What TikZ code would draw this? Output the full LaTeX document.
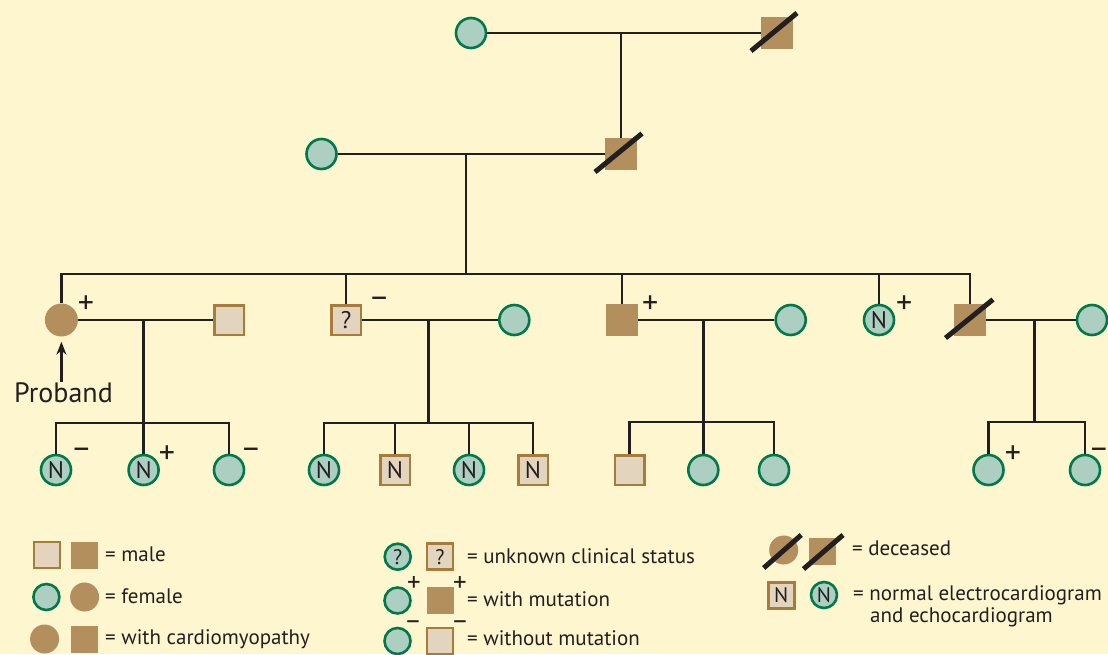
\documentclass[tikz,border=0pt]{standalone}
\usepackage{fontspec}
\setmainfont{PT Sans}
\usetikzlibrary{arrows.meta}
\definecolor{bg}{HTML}{FEF6CE}
\definecolor{gf}{HTML}{ADCFC2}
\definecolor{gd}{HTML}{00794A}
\definecolor{br}{HTML}{B48F5E}
\definecolor{sf}{HTML}{E3D4BE}
\definecolor{sd}{HTML}{A77B3B}
\definecolor{lc}{HTML}{231F20}
\begin{document}
\begin{tikzpicture}[x=1pt,y=-1pt,
  line/.style={draw=lc, line width=2.6pt},
  slash/.style={draw=lc, line width=5pt},
  fem/.style={circle, fill=gf, draw=gd, line width=2.6pt, minimum size=30pt, inner sep=0pt, text=lc, font=\fontsize{24}{24}\selectfont},
  femA/.style={circle, fill=br, minimum size=33pt, inner sep=0pt},
  mal/.style={rectangle, fill=sf, draw=sd, line width=2.5pt, minimum size=29.5pt, inner sep=0pt, text=lc, font=\fontsize{24}{24}\selectfont},
  malA/.style={rectangle, fill=br, minimum size=32pt, inner sep=0pt},
  sg/.style={inner sep=0pt, text=lc, font=\fontsize{32}{32}\selectfont},
  lsg/.style={sg, font=\fontsize{27}{27}\selectfont},
  lt/.style={anchor=base west, inner sep=0pt, text=lc, font=\fontsize{21}{24}\selectfont},
  lfem/.style={fem, minimum size=26pt},
  lfemA/.style={femA, minimum size=29pt},
  lmal/.style={mal, minimum size=26pt},
  lmalA/.style={malA, minimum size=27pt},
]
\fill[bg] (0,0) rectangle (1108,654);
\useasboundingbox (0,0) rectangle (1108,654);

% Generation I
\node[fem] (I1) at (471,33) {};
\node[malA] (I2) at (777,33) {};
\draw[line] (I1) -- (I2);
\draw[slash] ([shift={(-26,18)}]I2.center) -- ([shift={(20,-20)}]I2.center);
\coordinate (mI) at (621,33);

% Generation II
\node[fem] (II1) at (321.5,154) {};
\node[malA] (II2) at (621,154) {};
\draw[line] (mI) -- (II2);
\draw[line] (II1) -- (II2);
\draw[slash] ([shift={(-26,18)}]II2.center) -- ([shift={(21,-20.5)}]II2.center);
\coordinate (mII) at (466,154);
\coordinate (sII) at (466,274);
\draw[line] (mII) -- (sII);

% Generation III
\node[femA] (III1) at (61.4,320) {};
\node[mal] (III2) at (346,320) {?};
\node[malA] (III3) at (622,320) {};
\node[fem] (III4) at (879,320) {N};
\node[malA] (III5) at (970,320) {};
\draw[line] (III1) |- (sII) -| (III5);
\draw[line] (III2) -- (III2 |- sII);
\draw[line] (III3) -- (III3 |- sII);
\draw[line] (III4) -- (III4 |- sII);

\node[mal] (III1s) at (229,320) {};
\node[fem] (III2s) at (514.3,320) {};
\node[fem] (III3s) at (790.7,320) {};
\node[fem] (III5s) at (1092,320) {};
\draw[line] (III1) -- (III1s);
\draw[line] (III2) -- (III2s);
\draw[line] (III3) -- (III3s);
\draw[line] (III5) -- (III5s);
\draw[slash] ([shift={(-24.5,18)}]III5.center) -- ([shift={(23,-20.5)}]III5.center);

\node[sg] (sgIII1) at (86,305) {+};
\node[sg] (sgIII2) at (379.3,302.7) {–};
\node[sg] (sgIII3) at (650.2,305) {+};
\node[sg] (sgIII4) at (904.3,305) {+};

% Proband
\node[inner sep=1pt, text=lc, font=\fontsize{28}{28}\selectfont, anchor=base] (pb) at (63.5,402.7) {Proband};
\draw[line, line width=2.2pt, -{Stealth[length=13pt,width=10pt]}, shorten >=5pt] (pb.north -| III1) -- (III1);

% Generation IV, family 1
\coordinate (m1) at (143.6,320);
\coordinate (s1) at (143.6,423);
\node[fem] (IV1) at (56,470) {N};
\node[fem] (IV2) at (143.6,470) {N};
\node[fem] (IV3) at (229,470) {};
\draw[line] (m1) -- (IV2);
\draw[line] (IV1) |- (s1) -| (IV3);
\node[sg] (sgIV1) at (81.4,453) {–};
\node[sg] (sgIV2) at (167,455) {+};
\node[sg] (sgIV3) at (251,453) {–};

% family 2
\coordinate (m2) at (428.6,320);
\coordinate (s2) at (428.6,423);
\node[fem] (IV4) at (324,470) {N};
\node[mal] (IV5) at (395,470) {N};
\node[fem] (IV6) at (469,470) {N};
\node[mal] (IV7) at (533,470) {N};
\draw[line] (m2) -- (s2);
\draw[line] (IV4) |- (s2) -| (IV7);
\draw[line] (IV5) -- (IV5 |- s2);
\draw[line] (IV6) -- (IV6 |- s2);

% family 3
\coordinate (m3) at (703.3,320);
\coordinate (s3) at (703.3,422);
\node[mal] (IV8) at (629.5,470) {};
\node[fem] (IV9) at (703.3,470) {};
\node[fem] (IV10) at (774,470) {};
\draw[line] (m3) -- (IV9);
\draw[line] (IV8) |- (s3) -| (IV10);

% family 4
\coordinate (m4) at (1034.3,320);
\coordinate (s4) at (1034.3,422);
\node[fem] (IV11) at (988.5,470) {};
\node[fem] (IV12) at (1085,470) {};
\draw[line] (m4) -- (s4);
\draw[line] (IV11) |- (s4) -| (IV12);
\node[sg] (sgIV11) at (1013,455) {+};
\node[sg] (sgIV12) at (1099,453) {–};

% Legend column 1
\node[lmal] (L1a) at (47,555) {};
\node[lmalA] (L1b) at (84.5,555) {};
\node[lt] (L1t) at (105,561) {= male};
\node[lfem] (L2a) at (46.4,597) {};
\node[lfemA] (L2b) at (84.6,597) {};
\node[lt] (L2t) at (105,603) {= female};
\node[lfemA] (L3a) at (44.6,639) {};
\node[lmalA] (L3b) at (84,639) {};
\node[lt] (L3t) at (105,644.5) {= with cardiomyopathy};

% Legend column 2
\node[lfem, font=\fontsize{21}{21}\selectfont] (L4a) at (397.7,556.7) {?};
\node[lmal, font=\fontsize{21}{21}\selectfont] (L4b) at (440,556.7) {?};
\node[lt] (L4t) at (467,563.3) {= unknown clinical status};
\node[lfem] (L5a) at (397.5,600.5) {};
\node[lsg] (L5s1) at (414,584) {+};
\node[lmalA] (L5b) at (440,600) {};
\node[lsg] (L5s2) at (460,584) {+};
\node[lt] (L5t) at (467,606) {= with mutation};
\node[lfem] (L6a) at (397.5,641) {};
\node[lsg] (L6s1) at (413,625) {–};
\node[lmal] (L6b) at (440,641) {};
\node[lsg] (L6s2) at (460,625) {–};
\node[lt] (L6t) at (467,645.7) {= without mutation};

% Legend column 3
\node[lfemA] (L7a) at (783.7,550) {};
\draw[slash] ([shift={(-20,18)}]L7a.center) -- ([shift={(17.5,-15)}]L7a.center);
\node[lmalA] (L7b) at (822.5,551) {};
\draw[slash] ([shift={(-19,18)}]L7b.center) -- ([shift={(20.5,-16)}]L7b.center);
\node[lt] (L7t) at (852,555) {= deceased};
\node[lmal, font=\fontsize{21}{21}\selectfont] (L8a) at (781.3,595.3) {N};
\node[lfem, font=\fontsize{21}{21}\selectfont] (L8b) at (824,595) {N};
\node[lt] (L8t) at (853,600) {= normal electrocardiogram};
\node[lt] (L8u) at (870,622) {and echocardiogram};
\end{tikzpicture}
\end{document}
